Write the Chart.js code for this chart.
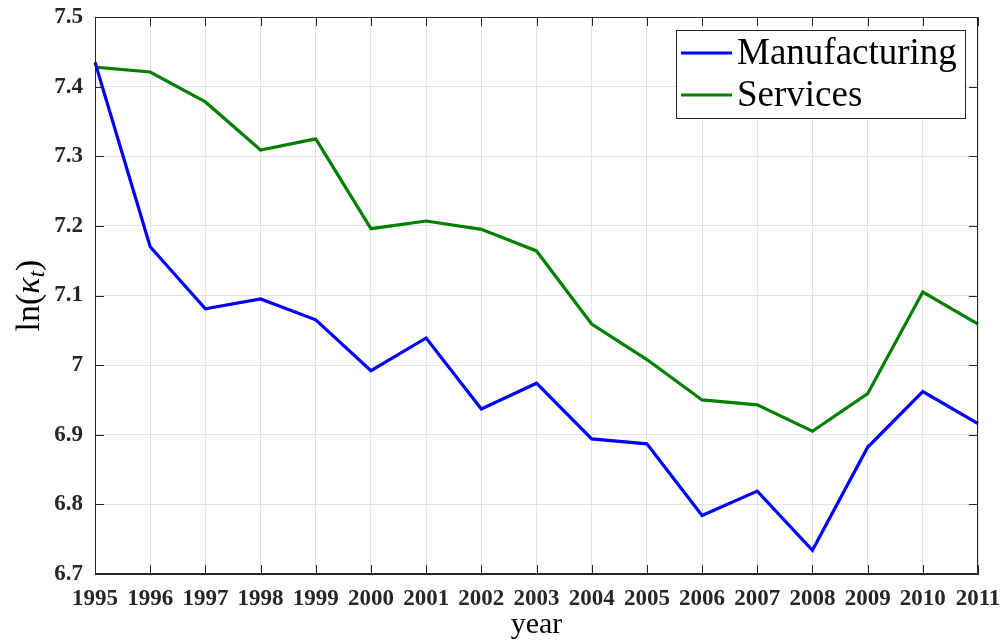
<!DOCTYPE html>
<html>
<head>
<meta charset="utf-8">
<script src="https://cdn.jsdelivr.net/npm/chart.js@4"></script>
<style>
  html, body { margin: 0; padding: 0; background: #fff; }
</style>
</head>
<body>
<canvas id="chart1" width="1006" height="643"></canvas>
<script>
// DATA
const years = ['1995','1996','1997','1998','1999','2000','2001','2002','2003','2004','2005','2006','2007','2008','2009','2010','2011'];
const manufacturing = [7.435, 7.170, 7.081, 7.095, 7.065, 6.992, 7.039, 6.937, 6.974, 6.894, 6.887, 6.784, 6.819, 6.734, 6.882, 6.962, 6.916];
const services = [7.428, 7.421, 7.378, 7.309, 7.325, 7.196, 7.207, 7.195, 7.164, 7.059, 7.008, 6.950, 6.943, 6.905, 6.959, 7.105, 7.059];
const yTicks = [6.7, 6.8, 6.9, 7.0, 7.1, 7.2, 7.3, 7.4, 7.5];

const AXIS = '#262626';
const SERIF = "'Liberation Serif', 'Times New Roman', serif";

// FRAME + INWARD TICKS (matlab look)
const frameTicks = {
  id: 'frameTicks',
  afterDraw(chart) {
    const ctx = chart.ctx, a = chart.chartArea;
    const xs = chart.scales.x, ys = chart.scales.y;
    ctx.save();
    ctx.strokeStyle = AXIS;
    ctx.lineWidth = 1;
    ctx.beginPath();
    ctx.rect(a.left + 0.5, a.top + 0.5, a.right - a.left - 1, a.bottom - a.top - 1);
    years.forEach((y, i) => {
      let px = Math.round(xs.getPixelForValue(i)) + 0.5;
      ctx.moveTo(px, a.bottom); ctx.lineTo(px, a.bottom - 9);
      ctx.moveTo(px, a.top); ctx.lineTo(px, a.top + 9);
    });
    yTicks.forEach(v => {
      let py = Math.round(ys.getPixelForValue(v)) + 0.5;
      ctx.moveTo(a.left, py); ctx.lineTo(a.left + 9, py);
      ctx.moveTo(a.right, py); ctx.lineTo(a.right - 9, py);
    });
    ctx.stroke();

    // y axis title ln(kappa_t)
    ctx.fillStyle = '#000';
    ctx.translate(28, (a.top + a.bottom) / 2);
    ctx.rotate(-Math.PI / 2);
    ctx.textBaseline = 'alphabetic';
    const parts = [
      ['ln(', 'normal 34px ' + SERIF, 0],
      ['κ', 'italic 34px ' + SERIF, 0],
      ['t', 'italic 23px ' + SERIF, 5],
      [')', 'normal 34px ' + SERIF, 0]
    ];
    let total = 0;
    parts.forEach(p => { ctx.font = p[1]; total += ctx.measureText(p[0]).width; });
    let x = -total / 2;
    parts.forEach(p => {
      ctx.font = p[1];
      ctx.fillText(p[0], x, 11 + p[2]);
      x += ctx.measureText(p[0]).width;
    });
    ctx.restore();
  }
};

// LEGEND BOX
const boxLegend = {
  id: 'boxLegend',
  afterDraw(chart) {
    const ctx = chart.ctx, a = chart.chartArea;
    const w = 289, h = 88;
    const x0 = a.right - 13 - w, y0 = a.top + 13;
    ctx.save();
    ctx.fillStyle = '#fff';
    ctx.fillRect(x0, y0, w, h);
    ctx.strokeStyle = AXIS;
    ctx.lineWidth = 1;
    ctx.strokeRect(x0 + 0.5, y0 + 0.5, w, h);
    chart.data.datasets.forEach((ds, i) => {
      const cy = y0 + 23 + i * 42;
      ctx.strokeStyle = ds.borderColor;
      ctx.lineWidth = 3;
      ctx.beginPath();
      ctx.moveTo(x0 + 5, cy); ctx.lineTo(x0 + 56, cy);
      ctx.stroke();
      ctx.fillStyle = '#000';
      ctx.font = '37px ' + SERIF;
      ctx.textBaseline = 'middle';
      ctx.fillText(ds.label, x0 + 61, cy + 1);
    });
    ctx.restore();
  }
};

let ctx1 = document.getElementById('chart1').getContext('2d');
let myChart1 = new Chart(ctx1, {
  type: 'line',
  data: {
    labels: years,
    datasets: [
      { label: 'Manufacturing', data: manufacturing, borderColor: '#0000ff', borderWidth: 3.2, pointRadius: 0, tension: 0, fill: false },
      { label: 'Services', data: services, borderColor: '#008000', borderWidth: 3.2, pointRadius: 0, tension: 0, fill: false }
    ]
  },
  options: {
    responsive: false,
    animation: false,
    devicePixelRatio: 1,
    layout: { padding: { left: 0, top: 17, right: 28, bottom: 0 } },
    plugins: { legend: { display: false }, tooltip: { enabled: false } },
    scales: {
      x: {
        type: 'category',
        offset: false,
        grid: { color: '#e3e3e3', drawTicks: false },
        border: { color: AXIS },
        ticks: { color: '#262626', padding: 11, maxRotation: 0, autoSkip: false, font: { family: SERIF, size: 23, weight: 'bold' } },
        title: { display: true, text: 'year', color: '#000', padding: { top: 0, bottom: 0 }, font: { family: SERIF, size: 30 } },
        afterFit: s => { s.height = 69; s.paddingLeft = 0; s.paddingRight = 0; }
      },
      y: {
        min: 6.7, max: 7.5,
        grid: { color: '#e3e3e3', drawTicks: false },
        border: { color: AXIS },
        afterBuildTicks: s => { s.ticks = yTicks.map(v => ({ value: v })); },
        ticks: {
          color: '#262626', padding: 12,
          font: { family: SERIF, size: 23, weight: 'bold' },
          callback: v => String(Number(v.toFixed(1)))
        },
        afterFit: s => { s.width = 95; s.paddingTop = 0; s.paddingBottom = 0; }
      }
    }
  },
  plugins: [frameTicks, boxLegend]
});
</script>
</body>
</html>
